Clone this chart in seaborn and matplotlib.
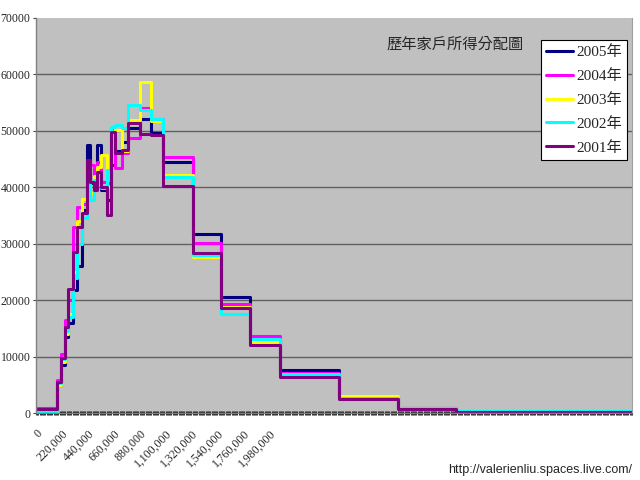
import pandas as pd
import numpy as np
import matplotlib
matplotlib.use('Agg')
import matplotlib.pyplot as plt
from matplotlib.ticker import MultipleLocator, FixedLocator, FuncFormatter
import seaborn as sns

sns.set_style('white')
plt.rcParams['font.family'] = ['Liberation Sans', 'Noto Sans CJK TC', 'DejaVu Sans']
plt.rcParams['axes.unicode_minus'] = False

# 所得級距起點 (元)，最後一個是右端點
income = [0, 180000, 210000, 250000, 270000, 310000, 350000, 390000, 430000,
          460000, 490000, 520000, 550000, 600000, 640000, 670000, 730000,
          780000, 880000, 980000, 1080000, 1330000, 1570000, 1820000,
          2070000, 2570000, 3070000, 3570000, 5060000]

# 各年度家戶數
y2005 = [300, 5000, 8500, 13500, 16000, 21800, 26000, 36000, 47500,
         40700, 42200, 47500, 39500, 37700, 44000, 46500, 48000,
         50500, 52100, 49600, 44500, 31700, 20600, 13200,
         7600, 2800, 800, 250, 250]
y2004 = [900, 5800, 10500, 16500, 20000, 33000, 36500, 37000, 40700,
         44000, 41000, 44500, 41000, 40700, 50500, 43400, 46000,
         48700, 54000, 52100, 45400, 30100, 19300, 13600,
         7100, 2800, 800, 250, 250]
y2003 = [200, 5000, 9000, 14000, 17500, 25000, 34000, 38000, 43400,
         39000, 42000, 43600, 45700, 40000, 50700, 50200, 46400,
         52000, 58700, 51700, 42200, 27600, 18800, 12600,
         6700, 3100, 800, 250, 250]
y2002 = [300, 5300, 9500, 14500, 17000, 24000, 30000, 34500, 42500,
         37700, 41300, 41000, 39900, 43100, 50700, 51000, 50500,
         54600, 53700, 52100, 41800, 28000, 17500, 13100,
         6900, 2700, 800, 300, 300]
y2001 = [700, 5500, 9700, 15200, 22000, 28500, 33000, 35500, 44800,
         41000, 39500, 42700, 40000, 35100, 49800, 46000, 46600,
         51400, 49400, 49300, 40200, 28300, 18600, 12000,
         6400, 2500, 700, 150, 150]

years = ['2005年', '2004年', '2003年', '2002年', '2001年']
colors = ['#000080', '#FF00FF', '#FFFF00', '#00FFFF', '#800080']
series = [y2005, y2004, y2003, y2002, y2001]

frames = []
for yr, vals in zip(years, series):
    frames.append(pd.DataFrame({'income': income, 'count': vals, 'year': yr}))
df = pd.concat(frames, ignore_index=True)

fig = plt.figure(figsize=(6.4, 4.8), dpi=100)
ax = fig.add_axes([36/640, 1 - 413/480, (632 - 36)/640, (413 - 18)/480])
ax.set_facecolor('#C0C0C0')

sns.lineplot(data=df, x='income', y='count', hue='year', hue_order=years,
             palette=dict(zip(years, colors)), drawstyle='steps-post',
             linewidth=2.2, errorbar=None, ax=ax)

ax.set_xlim(0, 5060000)
ax.set_ylim(0, 70000)
ax.yaxis.set_major_locator(MultipleLocator(10000))
ax.yaxis.set_major_formatter(FuncFormatter(lambda v, p: '%d' % v))
ax.grid(axis='y', color='#606060', linewidth=1)
ax.set_axisbelow(True)

xt = list(range(0, 1980001, 220000))
ax.xaxis.set_major_locator(FixedLocator(xt))
ax.xaxis.set_minor_locator(MultipleLocator(10000))
ax.set_xticklabels(['{:,}'.format(v) for v in xt], rotation=45,
                   ha='right', va='top', rotation_mode='anchor')
ax.tick_params(axis='x', which='both', bottom=True, direction='inout',
               length=3, width=0.7, color='#202020', labelsize=8.5, pad=9)
ax.tick_params(axis='y', left=True, direction='out', length=2, width=0.8,
               color='#404040', labelsize=8.5, pad=2)
for lab in ax.get_xticklabels() + ax.get_yticklabels():
    lab.set_family(['Liberation Serif', 'DejaVu Serif'])
ax.set_xlabel('')
ax.set_ylabel('')

# 70000 處不畫格線
fig.canvas.draw()
for tk in ax.yaxis.get_major_ticks():
    if abs(tk.get_loc() - 70000) < 1:
        tk.gridline.set_visible(False)

for s in ['left', 'bottom']:
    ax.spines[s].set_color('#808080')
    ax.spines[s].set_linewidth(1)
ax.spines['top'].set_visible(False)
ax.spines['right'].set_color('#A0A0A0')

leg = ax.legend(loc='upper left', bbox_to_anchor=(541/640, 1 - 40/480),
                bbox_transform=fig.transFigure, frameon=True, fancybox=False,
                edgecolor='black', framealpha=1, fontsize=11,
                handlelength=1.75, handletextpad=0.2, labelspacing=0.65,
                borderpad=0.35, borderaxespad=0)
leg.get_frame().set_linewidth(0.8)
for t in leg.get_texts():
    t.set_family(['Liberation Serif', 'Noto Sans CJK TC'])
for h in leg.get_lines():
    h.set_linewidth(2.2)

fig.text(455/640, 1 - 44/480, '歷年家戶所得分配圖', ha='center', va='center',
         fontsize=11, family=['Noto Sans CJK TC', 'DejaVu Sans'])
fig.text(632/640, 1 - 470/480, 'http://valerienliu.spaces.live.com/',
         ha='right', va='center', fontsize=9)

fig.savefig('out.png', dpi=100)
